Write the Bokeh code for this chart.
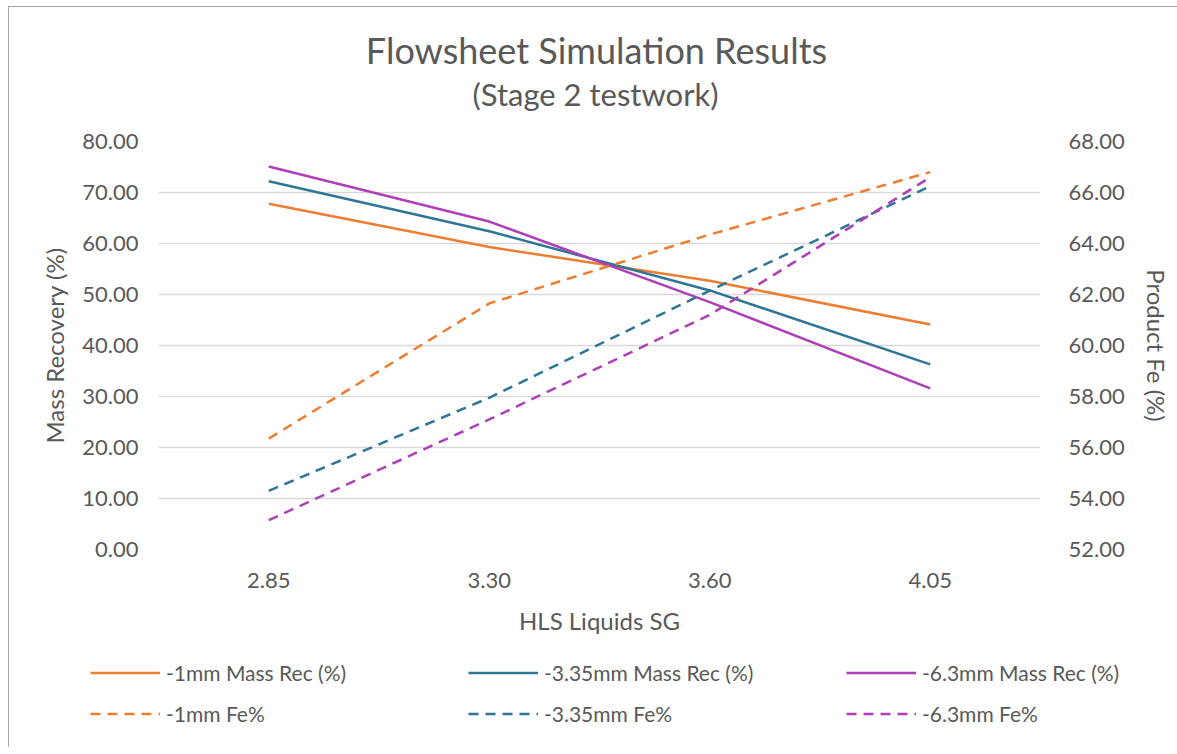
from bokeh.plotting import figure
from bokeh.layouts import column
from bokeh.models import (FactorRange, Range1d, LinearAxis, FixedTicker, NumeralTickFormatter,
                          Legend, LegendItem, Label)
from bokeh.embed import file_html
from bokeh.resources import INLINE

sg = ["2.85", "3.30", "3.60", "4.05"]
mass_1mm = [67.8, 59.3, 52.7, 44.1]
mass_335 = [72.2, 62.4, 50.8, 36.3]
mass_63 = [75.1, 64.3, 48.5, 31.6]
fe_1mm = [56.35, 61.65, 64.35, 66.8]
fe_335 = [54.3, 57.95, 62.15, 66.25]
fe_63 = [53.15, 57.1, 61.2, 66.6]

left_ticks = [0, 10, 20, 30, 40, 50, 60, 70, 80]
right_ticks = [52, 54, 56, 58, 60, 62, 64, 66, 68]

title_text = "Flowsheet Simulation Results"
subtitle_text = "(Stage 2 testwork)"
mass_labels = ["-1mm Mass Rec (%)", "-3.35mm Mass Rec (%)", "-6.3mm Mass Rec (%)"]
fe_labels = ["-1mm Fe%", "-3.35mm Fe%", "-6.3mm Fe%"]

ORANGE = "#ED7D31"
TEAL = "#2E7596"
PURPLE = "#AE3FB6"
COLORS = [ORANGE, TEAL, PURPLE]
TXT = "#595959"
FONT = "Lato"
W = 1168
lw = 2.5
dash = "10 7"

def strip(f):
    f.grid.grid_line_color = None
    f.outline_line_color = None
    f.background_fill_color = "white"
    f.border_fill_color = "white"
    return f

# ---- title block (frame aligned with main chart frame in the column) ----
HT = 120
pt = strip(figure(width=W, height=HT, x_range=Range1d(0, 882), y_range=Range1d(0, HT),
                  output_backend="svg", toolbar_location=None,
                  x_axis_location=None, y_axis_location=None, min_border=0))
pt.add_layout(Label(x=438, y=HT - 42, text=title_text, text_align="center",
                    text_baseline="middle", text_font=FONT, text_font_size="36px",
                    text_color=TXT))
pt.add_layout(Label(x=437, y=HT - 86, text=subtitle_text, text_align="center",
                    text_baseline="middle", text_font=FONT, text_font_size="31px",
                    text_color=TXT))

# ---- main chart ----
p = figure(frame_width=882, frame_height=408, x_range=FactorRange(factors=sg, range_padding=0),
           y_range=Range1d(0, 80), output_backend="svg", toolbar_location=None,
           min_border_left=149, min_border_right=137, min_border_top=14, min_border_bottom=100)
p.extra_y_ranges = {"fe": Range1d(52, 68)}
strip(p)
p.title = None
p.ygrid.grid_line_color = "#d9d9d9"
p.ygrid.grid_line_width = 1.5

def style_axis(ax):
    ax.axis_line_color = None
    ax.major_tick_line_color = None
    ax.minor_tick_line_color = None
    ax.major_tick_out = 0
    ax.major_tick_in = 0
    ax.major_label_text_font = FONT
    ax.major_label_text_font_size = "22px"
    ax.major_label_text_color = TXT
    ax.axis_label_text_font = FONT
    ax.axis_label_text_font_size = "24px"
    ax.axis_label_text_font_style = "normal"
    ax.axis_label_text_color = TXT

yl = p.yaxis[0]
yl.ticker = FixedTicker(ticks=left_ticks)
yl.formatter = NumeralTickFormatter(format="0.00")
yl.axis_label = "Mass Recovery (%)"
yl.major_label_standoff = 20
yl.axis_label_standoff = 10
style_axis(yl)

yr = LinearAxis(y_range_name="fe", ticker=FixedTicker(ticks=right_ticks),
                formatter=NumeralTickFormatter(format="0.00"), axis_label="Product Fe (%)")
yr.major_label_standoff = 28
yr.axis_label_standoff = 14
style_axis(yr)
p.add_layout(yr, "right")

xa = p.xaxis[0]
xa.axis_label = "HLS Liquids SG"
xa.major_label_standoff = 23
xa.axis_label_standoff = 15
style_axis(xa)

mass_series = [mass_1mm, mass_335, mass_63]
fe_series = [fe_1mm, fe_335, fe_63]
for vals, c in zip(mass_series, COLORS):
    p.line(sg, vals, line_color=c, line_width=lw)
for vals, c in zip(fe_series, COLORS):
    p.line(sg, vals, line_color=c, line_width=lw, line_dash=dash, y_range_name="fe")

# ---- legend block (separate root, full-width frame) ----
HL = 98
pl = strip(figure(width=W, height=HL, x_range=FactorRange(factors=sg), y_range=Range1d(200, 200 + HL),
                  output_backend="svg", toolbar_location=None,
                  x_axis_location=None, y_axis_location=None, min_border=0,
                  styles={"margin-left": "8px", "border-left": "1px solid #a6a6a6"}))
# key renderers: same series, outside this strip's visible range (only their legend keys show)
mass_keys = [pl.line(sg, v, line_color=c, line_width=lw) for v, c in zip(mass_series, COLORS)]
fe_keys = [pl.line(sg, v, line_color=c, line_width=lw, line_dash=dash) for v, c in zip(fe_series, COLORS)]

def make_legend(labels, keys, loc):
    lg = Legend(items=[LegendItem(label=t, renderers=[r]) for t, r in zip(labels, keys)],
                orientation="horizontal", location=loc)
    lg.glyph_width = 70
    lg.glyph_height = 33
    lg.label_height = 33
    lg.label_width = 294
    lg.label_standoff = 6
    lg.spacing = 8
    lg.padding = 0
    lg.margin = 0
    lg.border_line_color = None
    lg.background_fill_alpha = 0
    lg.label_text_font = FONT
    lg.label_text_font_size = "21px"
    lg.label_text_color = TXT
    return lg

pl.add_layout(make_legend(mass_labels, mass_keys, (81, 58.5)))
pl.add_layout(make_legend(fe_labels, fe_keys, (81, 17.5)))

top = column(pt, p, spacing=0,
             styles={"margin-left": "8px", "margin-top": "6px",
                     "border-left": "1px solid #a6a6a6", "border-top": "1px solid #a6a6a6"})

open("out.html", "w").write(file_html([top, pl], INLINE))
